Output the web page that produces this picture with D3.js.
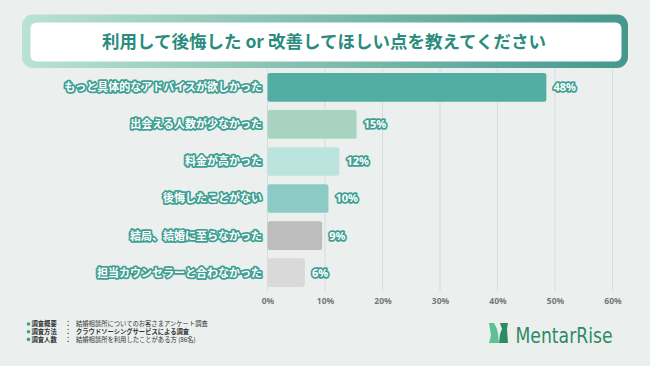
<!DOCTYPE html>
<html><head><meta charset="utf-8">
<script src="https://cdn.jsdelivr.net/npm/d3@7"></script>
<style>
html,body{margin:0;padding:0;background:#ebf0ef;}
svg{display:block;font-family:"Noto Sans CJK JP","Noto Sans",sans-serif;}
</style></head>
<body>
<svg id="chart" width="650" height="366"></svg>
<script>
const title = "利用して後悔した or 改善してほしい点を教えてください";
const categories = ["もっと具体的なアドバイスが欲しかった","出会える人数が少なかった","料金が高かった","後悔したことがない","結局、結婚に至らなかった","担当カウンセラーと合わなかった"];
const values = [48.5, 15.5, 12.5, 10.6, 9.5, 6.5];
const valueLabels = ["48%","15%","12%","10%","9%","6%"];
const barColors = ["#52ada3","#a8d3c0","#bde3df","#8ccac6","#bdbdbd","#d9d9d9"];
const tickValues = [0,10,20,30,40,50,60];
const notes = [
  ["調査概要","結婚相談所についてのお客さまアンケート調査", false],
  ["調査方法","クラウドソーシングサービスによる調査", true],
  ["調査人数","結婚相談所を利用したことがある方 (86名)", false]
];
const brand = "MentarRise";

const svg = d3.select("#chart");
svg.append("rect").attr("width",650).attr("height",366).attr("fill","#ebf0ef");

// Title box
const defs = svg.append("defs");
const grad = defs.append("linearGradient").attr("id","tg").attr("x1","0%").attr("x2","100%");
grad.append("stop").attr("offset","0%").attr("stop-color","#b9e2d2");
grad.append("stop").attr("offset","100%").attr("stop-color","#45978c");
svg.append("rect").attr("x",22).attr("y",14.5).attr("width",606).attr("height",53.5).attr("rx",11).attr("fill","url(#tg)");
svg.append("rect").attr("x",30.5).attr("y",22.5).attr("width",591).attr("height",39).attr("rx",6).attr("fill","#ffffff");
svg.append("text").attr("x",324).attr("y",47.5).attr("text-anchor","middle")
  .attr("font-size",17.5).attr("font-weight",700).attr("fill","#2a8c7e").text(title);

// Scales
const x = d3.scaleLinear().domain([0,60]).range([267.5,612.5]);
const y = d3.scaleBand().domain(categories).range([69,291]).paddingInner(0.225).paddingOuter(0.11);

// Grid
svg.append("g").selectAll("line").data(tickValues).join("line")
  .attr("x1",d=>x(d)).attr("x2",d=>x(d)).attr("y1",69).attr("y2",291)
  .attr("stroke","#d6dbda").attr("stroke-width",1);

// Axis ticks
const axis = svg.append("g").attr("transform","translate(0,291)")
  .call(d3.axisBottom(x).tickValues(tickValues).tickFormat(d=>d+"%").tickSize(0).tickPadding(7));
axis.select(".domain").remove();
axis.selectAll("text").attr("font-size",8.5).attr("font-weight",700).attr("fill","#777")
  .attr("font-family","'Noto Sans','Noto Sans CJK JP',sans-serif");

// Bars
svg.append("g").selectAll("rect").data(categories).join("rect")
  .attr("x",x(0)).attr("y",d=>y(d)).attr("height",y.bandwidth())
  .attr("width",(d,i)=>x(values[i])-x(0)).attr("rx",2.5)
  .attr("fill",(d,i)=>barColors[i]);

// Category labels (white with teal halo)
svg.append("g").selectAll("text").data(categories).join("text")
  .attr("x",262).attr("y",d=>y(d)+y.bandwidth()/2).attr("dy","0.36em")
  .attr("text-anchor","end").attr("font-size",11).attr("font-weight",700)
  .attr("fill","#ffffff").attr("stroke","#3f9f93").attr("stroke-width",3.5)
  .attr("stroke-linejoin","round").attr("paint-order","stroke").text(d=>d);

// Value labels
svg.append("g").selectAll("text").data(categories).join("text")
  .attr("x",(d,i)=>x(values[i])+7).attr("y",d=>y(d)+y.bandwidth()/2).attr("dy","0.36em")
  .attr("font-size",11).attr("font-weight",700)
  .attr("font-family","'Noto Sans','Noto Sans CJK JP',sans-serif")
  .attr("fill","#ffffff").attr("stroke","#3f9f93").attr("stroke-width",3.5)
  .attr("stroke-linejoin","round").attr("paint-order","stroke").text((d,i)=>valueLabels[i]);

// Notes
const ng = svg.append("g");
notes.forEach((n,i)=>{
  const yy = 324 + i*7.7;
  ng.append("circle").attr("cx",28.5).attr("cy",yy).attr("r",1.8).attr("fill","#3fa088");
  ng.append("text").attr("x",31.5).attr("y",yy).attr("dy","0.35em").attr("font-size",6.3).attr("font-weight",700).attr("fill","#333").text(n[0]);
  ng.append("text").attr("x",65).attr("y",yy).attr("dy","0.35em").attr("font-size",6.3).attr("font-weight",700).attr("fill","#333").text("：");
  ng.append("text").attr("x",76).attr("y",yy).attr("dy","0.35em").attr("font-size",6.3).attr("font-weight",n[2]?700:400).attr("fill","#333").text(n[1]);
});

// Logo
const lg = svg.append("g");
lg.append("path").attr("d","M489,323 L494,323 L497,329 L498,334 L499,343 L489,343 L491,335 L490,329 Z").attr("fill","#5fbf95");
lg.append("path").attr("d","M500,323 L508,323 L507,329 L508,343 L499,343 L500,334 L502,329 Z").attr("fill","#2f8a66");
lg.append("text").attr("x",515.5).attr("y",342.5).attr("font-size",21).attr("font-weight",400)
  .attr("font-family","'DejaVu Sans','Noto Sans',sans-serif").attr("fill","#2f8a66")
  .attr("textLength",97).attr("lengthAdjust","spacingAndGlyphs").text(brand);
</script>
</body></html>
